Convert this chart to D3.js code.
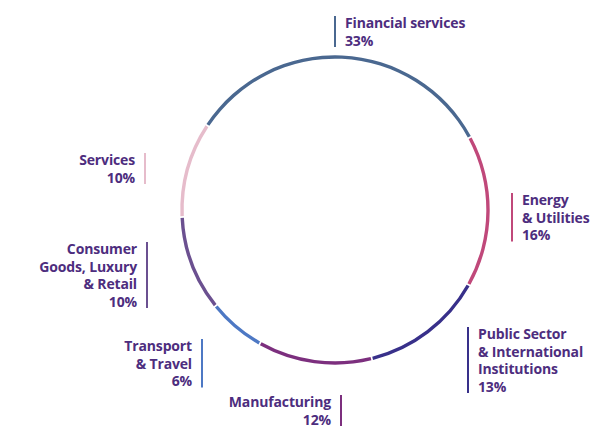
<!DOCTYPE html>
<html>
<head>
<meta charset="utf-8">
<script src="https://cdn.jsdelivr.net/npm/d3@7"></script>
<style>
  body { margin: 0; background: #fff; }
  svg text { font-family: "Open Sans", sans-serif; font-weight: 700; fill: #4d2d7e; }
</style>
</head>
<body>
<svg width="592" height="427"></svg>
<script>
// Sector data
const sectors = ["Financial services", "Energy & Utilities", "Public Sector & International Institutions",
  "Manufacturing", "Transport & Travel", "Consumer Goods, Luxury & Retail", "Services"];
const shares = [33, 16, 13, 12, 6, 10, 10];
const colors = ["#4a6890", "#c0487a", "#38308a", "#7c2f7e", "#4d78c4", "#6b5090", "#e6bccb"];
// label lines as drawn in the figure
const labelLines = [
  ["Financial services", "33%"],
  ["Energy", "& Utilities", "16%"],
  ["Public Sector", "& International", "Institutions", "13%"],
  ["Manufacturing", "12%"],
  ["Transport", "& Travel", "6%"],
  ["Consumer", "Goods, Luxury", "& Retail", "10%"],
  ["Services", "10%"]
];
// label anchor: x of bar, top of bar, side of text
const labelPos = [
  {x: 335, y: 16, side: "right"},
  {x: 512, y: 193, side: "right"},
  {x: 468, y: 327, side: "right"},
  {x: 341, y: 395, side: "left"},
  {x: 202, y: 339, side: "left"},
  {x: 147, y: 242, side: "left"},
  {x: 145, y: 153, side: "left"}
];

const svg = d3.select("svg");
const cx = 335, cy = 210, r = 153;
const g = svg.append("g").attr("transform", `translate(${cx},${cy})`);

const pie = d3.pie().sort(null).value(d => d)
  .startAngle(-56.5 * Math.PI / 180)
  .endAngle((360 - 56.5) * Math.PI / 180)
  .padAngle(0.008);
const arc = d3.arc().innerRadius(r - 1.7).outerRadius(r + 1.7);

g.selectAll("path")
  .data(pie(shares))
  .enter().append("path")
  .attr("d", arc)
  .attr("fill", (d, i) => colors[i]);

// Labels
const lineH = 17.5;
labelLines.forEach((lines, i) => {
  const p = labelPos[i];
  const h = lines.length * lineH - 4;
  svg.append("line")
    .attr("x1", p.x).attr("x2", p.x)
    .attr("y1", p.y).attr("y2", p.y + h)
    .attr("stroke", colors[i])
    .attr("stroke-width", 2);
  const tx = p.side === "right" ? p.x + 10 : p.x - 10;
  const t = svg.append("text")
    .attr("text-anchor", p.side === "right" ? "start" : "end")
    .style("font-size", "14px")
    .style("letter-spacing", "-0.15px");
  lines.forEach((s, j) => {
    t.append("tspan")
      .attr("x", tx)
      .attr("y", p.y + 12 + j * lineH)
      .text(s);
  });
});
</script>
</body>
</html>
